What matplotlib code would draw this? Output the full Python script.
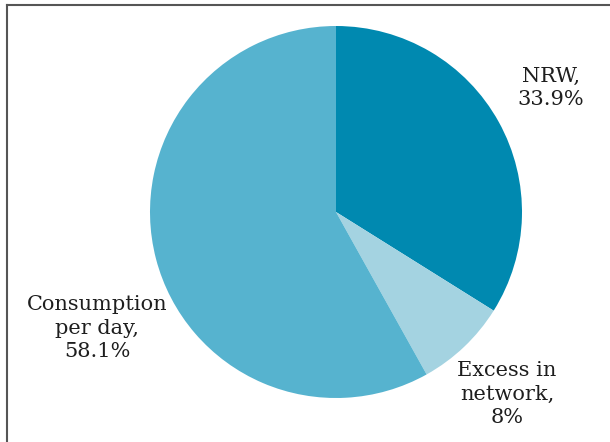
import matplotlib
matplotlib.use("Agg")
import matplotlib.pyplot as plt
from matplotlib.lines import Line2D

labels = ["NRW,\n33.9%", "Excess in\nnetwork,\n8%", "Consumption\nper day,\n58.1%"]
values = [33.9, 8.0, 58.1]
colors = ["#0089b0", "#a4d3e1", "#56b3cf"]

W, H = 610, 442
fig = plt.figure(figsize=(W / 100, H / 100), dpi=100)
ax = fig.add_axes([0, 0, 1, 1])

cx, cy, r = 336, H - 212, 186
ax.pie(values, colors=colors, startangle=90, counterclock=False,
       center=(cx, cy), radius=r, frame=True,
       wedgeprops=dict(linewidth=0))
ax.set_xlim(0, W)
ax.set_ylim(0, H)
ax.set_aspect("equal")
ax.axis("off")

label_pos = [(551, H - 88), (507, H - 394), (97, H - 328)]
for lab, (x, y) in zip(labels, label_pos):
    ax.text(x, y, lab, ha="center", va="center", fontsize=15,
            family="DejaVu Serif", color="#1e1e1e", linespacing=1.32)

# frame lines (top and left)
fig.add_artist(Line2D([7 / W, 1], [1 - 5 / H, 1 - 5 / H], transform=fig.transFigure,
                      color="#555555", linewidth=1.5))
fig.add_artist(Line2D([7 / W, 7 / W], [0, 1 - 5 / H], transform=fig.transFigure,
                      color="#555555", linewidth=1.5))

fig.savefig("out.png", dpi=100)
